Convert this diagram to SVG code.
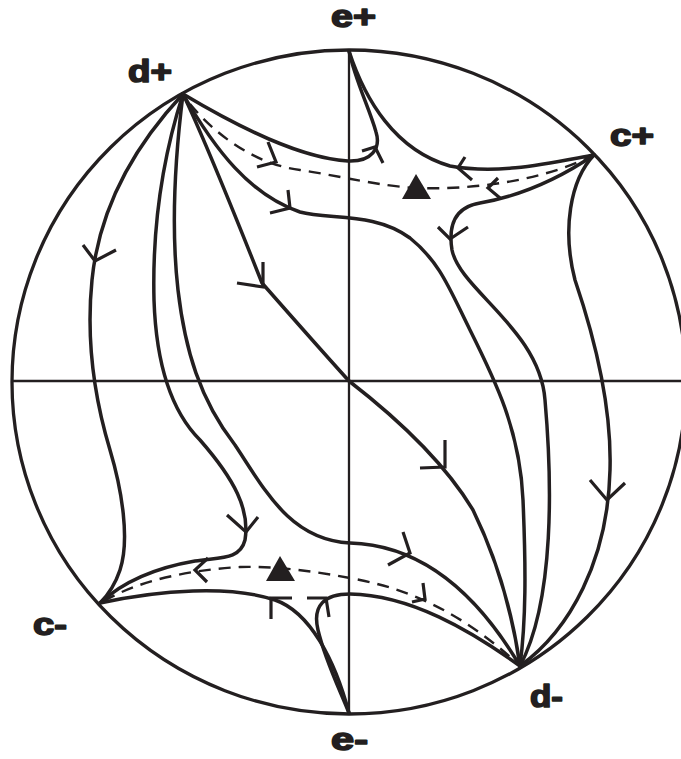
<svg xmlns="http://www.w3.org/2000/svg" width="681" height="759" viewBox="0 0 681 759">
<style>
.bg{fill:#ffffff}
.rim{fill:none;stroke:#231f20;stroke-width:3.3}
.axis{fill:none;stroke:#231f20;stroke-width:2.3}
.traj{fill:none;stroke:#231f20;stroke-width:3.5;stroke-linejoin:round;stroke-linecap:round}
.dash{fill:none;stroke:#231f20;stroke-width:2.4;stroke-dasharray:12 8}
.arr{fill:none;stroke:#231f20;stroke-width:3.2;stroke-linejoin:miter;stroke-linecap:butt}
.eq{fill:#231f20;stroke:none}
.lbl{font-family:"Liberation Sans",Arial,sans-serif;font-weight:bold;font-size:31px;fill:#231f20;stroke:#231f20;stroke-width:1.6;stroke-linejoin:round}
</style>
<rect class="bg" x="0" y="0" width="681" height="759"/>
<g id="frame">
<ellipse class="rim" cx="349" cy="382" rx="337" ry="332"/>
<line class="axis" x1="11" y1="381" x2="681" y2="381"/>
<line class="axis" x1="349" y1="50" x2="349" y2="714"/>
</g>
<g id="connectors">
<path id="A" class="traj" d="M183,94 C140,140 100,200 92,280 C86,340 95,400 110,450 C122,490 130,540 120,570 C115,585 108,595 100,603"/>
<path id="C1" class="traj" d="M183,94 C165,150 152,220 154,300 C156,360 170,410 200,440 C235,480 250,510 245,540 C240,560 220,557 195,561 C160,567 125,580 100,603"/>
<path id="C2" class="traj" d="M183,94 C176,150 170,220 178,290 C185,350 200,400 235,445 C265,490 290,540 350,543 C420,545 475,590 520,666"/>
<path id="B" class="traj" d="M183,94 C205,140 235,215 262,283 C291,316 320,349 349,381 C380,405 440,455 473,510 C495,555 512,610 520,666"/>
<path id="RC2" class="traj" d="M183,94 C215,150 250,195 300,212 C330,220 375,212 410,238 C440,262 450,290 470,330 C495,380 520,430 523,500 C526,570 526,620 520,666"/>
<path id="top1" class="traj" d="M183,94 C240,128 300,158 348,161 C372,162 381,148 376,132 C370,110 355,80 349,51"/>
<path id="top2" class="traj" d="M349,51 C365,100 395,150 450,166 C500,175 550,163 594,155"/>
<path id="RC1" class="traj" d="M594,155 C560,178 520,196 480,203 C455,207 448,225 452,250 C460,290 540,330 545,400 C552,480 555,600 520,666"/>
<path id="RA" class="traj" d="M594,155 C570,180 562,230 575,280 C592,330 612,400 610,470 C608,560 570,630 520,666"/>
<path id="bot1" class="traj" d="M520,666 C470,630 410,595 350,594 C325,594 312,605 318,630 C325,660 340,690 349,713"/>
<path id="bot2" class="traj" d="M100,603 C160,590 230,585 275,600 C310,612 335,660 349,713"/>
<path id="dashTop" class="dash" d="M190,104 C220,140 260,165 300,170 C340,176 380,186 415,188 C470,190 540,182 594,155"/>
<path id="dashBot" class="dash" d="M104,601 C140,580 190,570 240,567 C280,566 320,572 360,580 C420,592 470,620 518,664"/>
</g>
<g id="arrowheads">
<path class="arr" d="M83,245 L95,261 L116,250"/>
<path class="arr" d="M263,262 L263,287 L237,283"/>
<path class="arr" d="M445,440 L445,467 L420,468"/>
<path class="arr" d="M227,515 L246,532 L258,517"/>
<path class="arr" d="M403,532 L410,553 L388,565"/>
<path class="arr" d="M288,190 L290,208 L270,213"/>
<path class="arr" d="M438,227 L450,239 L468,227"/>
<path class="arr" d="M590,480 L607,500 L625,483"/>
<path class="arr" d="M362,151 L375,147 L383,163"/>
<path class="arr" d="M465,157 L458,168 L472,180"/>
<path class="arr" d="M268,142 L276,162 L257,167"/>
<path class="arr" d="M498,178 L488,188 L500,198"/>
<path class="arr" d="M292,598 L271,598 L271,619"/>
<path class="arr" d="M307,598 L326,598 L329,617"/>
<path class="arr" d="M208,558 L195,570 L207,582"/>
<path class="arr" d="M423,583 L425,599 L412,602"/>
</g>
<g id="saddle-top"><polygon class="eq" points="416,174 431,199 402,199"/></g>
<g id="saddle-bottom"><polygon class="eq" points="280,556 295,581 266,581"/></g>
<g id="node-eplus"><text class="lbl" x="331" y="27" textLength="45" lengthAdjust="spacingAndGlyphs">e+</text></g>
<g id="node-dplus"><text class="lbl" x="128" y="82" textLength="44" lengthAdjust="spacingAndGlyphs">d+</text></g>
<g id="node-cplus"><text class="lbl" x="610" y="146" textLength="44" lengthAdjust="spacingAndGlyphs">c+</text></g>
<g id="node-cminus"><text class="lbl" x="33" y="635" textLength="34" lengthAdjust="spacingAndGlyphs">c-</text></g>
<g id="node-dminus"><text class="lbl" x="530" y="707" textLength="33" lengthAdjust="spacingAndGlyphs">d-</text></g>
<g id="node-eminus"><text class="lbl" x="331" y="750" textLength="37" lengthAdjust="spacingAndGlyphs">e-</text></g>
</svg>
